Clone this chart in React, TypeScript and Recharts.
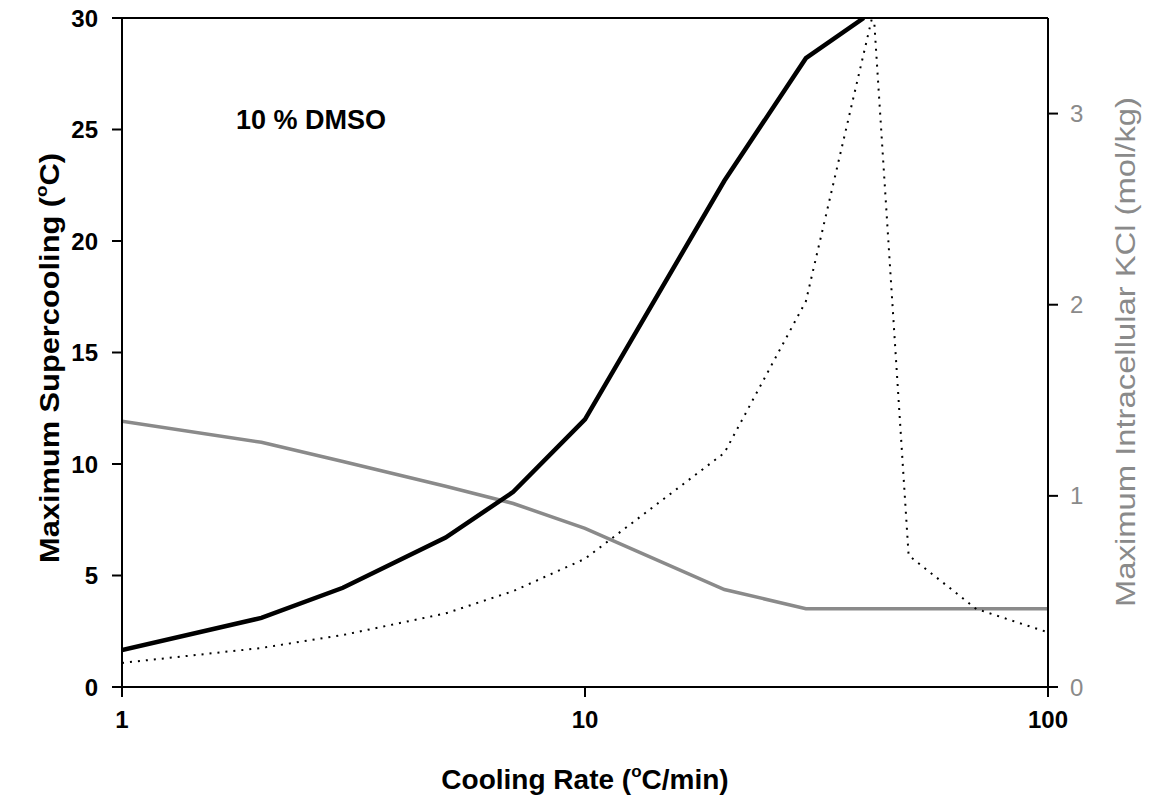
import React from 'react';
import {
  LineChart,
  Line,
  XAxis,
  YAxis,
  ReferenceLine,
  Customized,
} from 'recharts';

// cooling rate (°C/min) and the three curves
const supercoolingRates = [1, 2, 3, 5, 7, 10, 20, 30, 40];
const supercoolingValues = [1.66, 3.1, 4.45, 6.7, 8.75, 12.0, 22.7, 28.2, 30.0];

const kclRates = [1, 2, 3, 5, 7, 10, 20, 30, 50, 100];
const kclValues = [1.39, 1.28, 1.18, 1.05, 0.96, 0.83, 0.51, 0.41, 0.41, 0.41];

const dottedRates = [1, 2, 3, 5, 7, 10, 20, 30, 42, 50, 70, 100];
const dottedValues = [1.08, 1.75, 2.33, 3.3, 4.3, 5.75, 10.5, 17.3, 30.3, 5.9, 3.5, 2.45];

const xTicks = [1, 10, 100];
const leftTicks = [0, 5, 10, 15, 20, 25, 30];
const rightTicks = [0, 1, 2, 3];

const toPoints = (xs: number[], ys: number[]) => xs.map((x, i) => ({ x, y: ys[i] }));

const supercoolingData = toPoints(supercoolingRates, supercoolingValues);
const kclData = toPoints(kclRates, kclValues);
const dottedData = toPoints(dottedRates, dottedValues);

const FONT = '"Liberation Sans", Arial, sans-serif';
const GRAY = '#8a8a8a';

function Labels() {
  return (
    <g fontFamily={FONT}>
      <text x={236} y={129} fontSize={27} fontWeight="bold" fill="#000">
        10 % DMSO
      </text>
      <text x={585} y={789} fontSize={28} fontWeight="bold" fill="#000" textAnchor="middle">
        <tspan>Cooling Rate (</tspan>
        <tspan fontSize={17} dy={-12}>o</tspan>
        <tspan dy={12}>C/min)</tspan>
      </text>
      <text
        x={0}
        y={0}
        transform="translate(59,358) rotate(-90)"
        fontSize={28}
        fontWeight="bold"
        fill="#000"
        textAnchor="middle"
        textLength={410}
        lengthAdjust="spacingAndGlyphs"
      >
        <tspan>Maximum Supercooling (</tspan>
        <tspan fontSize={17} dy={-12}>o</tspan>
        <tspan dy={12}>C)</tspan>
      </text>
      <text
        x={0}
        y={0}
        transform="translate(1135,352) rotate(-90)"
        fontSize={27}
        fill={GRAY}
        textAnchor="middle"
        textLength={510}
        lengthAdjust="spacingAndGlyphs"
      >
        Maximum Intracellular KCl (mol/kg)
      </text>
    </g>
  );
}

export default function App() {
  return (
    <div style={{ position: 'absolute', left: 0, top: 0, width: 1155, height: 806, background: '#fff' }}>
      <LineChart width={1155} height={806} margin={{ top: 18, right: 0, bottom: 0, left: 0 }}>
        <XAxis
          dataKey="x"
          type="number"
          scale="log"
          domain={[1, 100]}
          ticks={xTicks}
          allowDataOverflow
          height={119}
          tickSize={10}
          tickMargin={14}
          stroke="#000"
          strokeWidth={2}
          tick={{ fill: '#000', fontSize: 24, fontWeight: 'bold', fontFamily: FONT }}
        />
        <YAxis
          yAxisId="left"
          type="number"
          domain={[0, 30]}
          ticks={leftTicks}
          allowDataOverflow
          width={122}
          tickSize={10}
          tickMargin={14}
          stroke="#000"
          strokeWidth={2}
          tick={{ fill: '#000', fontSize: 24, fontWeight: 'bold', fontFamily: FONT }}
        />
        <YAxis
          yAxisId="right"
          orientation="right"
          type="number"
          domain={[0, 3.5]}
          ticks={rightTicks}
          allowDataOverflow
          width={107}
          tickSize={10}
          tickMargin={12}
          stroke="#000"
          strokeWidth={2}
          tick={{ fill: GRAY, fontSize: 24, fontFamily: FONT }}
        />
        <ReferenceLine yAxisId="left" y={30} stroke="#000" strokeWidth={2} />
        <Line
          yAxisId="right"
          data={kclData}
          dataKey="y"
          type="linear"
          stroke={GRAY}
          strokeWidth={3.5}
          dot={false}
          isAnimationActive={false}
        />
        <Line
          yAxisId="left"
          data={dottedData}
          dataKey="y"
          type="linear"
          stroke="#000"
          strokeWidth={2}
          strokeDasharray="2 6"
          dot={false}
          isAnimationActive={false}
        />
        <Line
          yAxisId="left"
          data={supercoolingData}
          dataKey="y"
          type="linear"
          stroke="#000"
          strokeWidth={4.5}
          dot={false}
          isAnimationActive={false}
        />
        <Customized component={Labels} />
      </LineChart>
    </div>
  );
}
